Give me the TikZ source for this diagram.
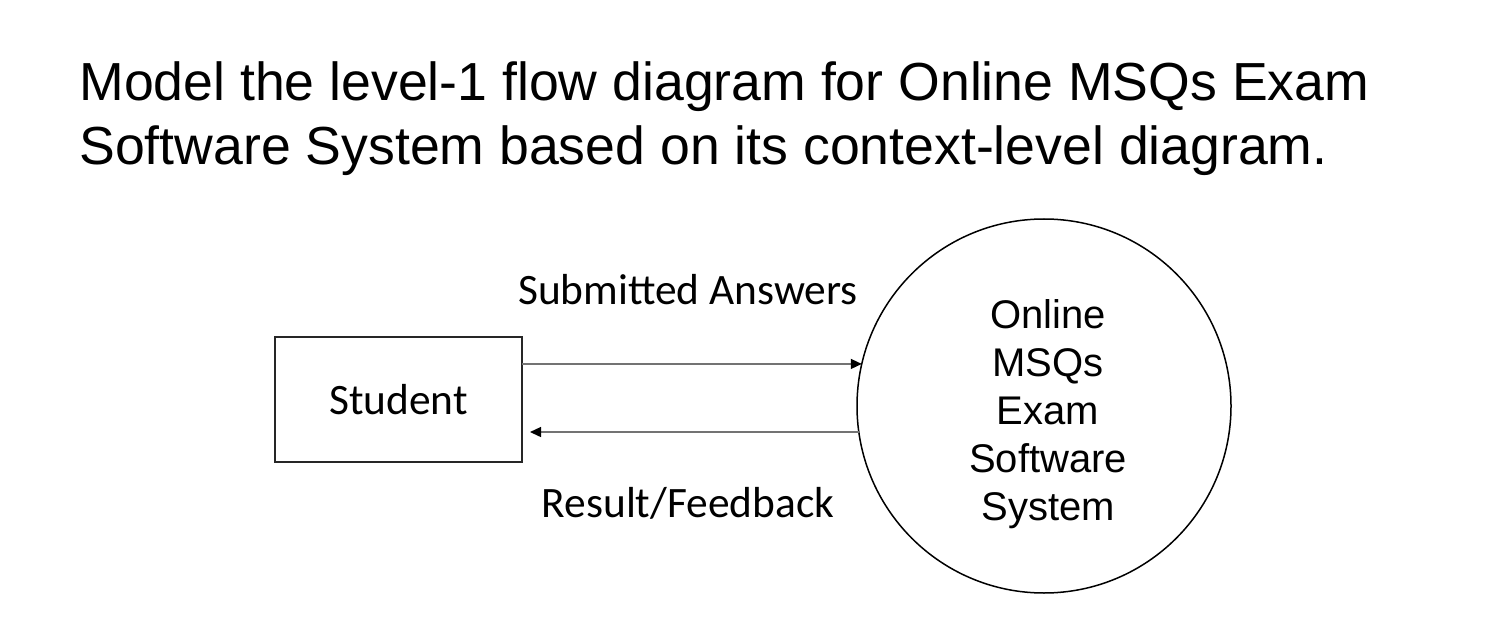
\documentclass[tikz,border=0pt]{standalone}
\usepackage{fontspec}
\setmainfont{Liberation Sans}
\newfontfamily\calfont{Carlito}
\usetikzlibrary{arrows.meta}
\begin{document}
\begin{tikzpicture}[x=0.5pt,y=-0.5pt,
  titletext/.style={anchor=base west,inner sep=0,font=\fontsize{26.8}{32}\selectfont},
  labeltext/.style={anchor=base,inner sep=0,font=\calfont\fontsize{21.7}{26}\selectfont},
  entity/.style={draw=black!85,line width=1.1pt,minimum width=123.5pt,minimum height=62.5pt,inner sep=0,outer sep=0,font=\calfont\fontsize{21.7}{26}\selectfont},
  process/.style={draw=black,line width=0.75pt,circle,minimum size=187pt,inner sep=0,outer sep=0},
  flow/.style={draw=black!55,line width=0.7pt,-{Triangle[length=5.5pt,width=5pt,color=black,fill=black]}}]
\useasboundingbox (0,0) rectangle (1492,625);
\node[titletext] (t1) at (79,101) {Model the level-1 flow diagram for Online MSQs Exam};
\node[titletext] (t2) at (79,165) {Software System based on its context-level diagram.};
\node[entity] (stu) at (398.5,399.5) {Student};
\node[process] (sys) at (1044,406) {};
\node[anchor=base,inner sep=0,align=center,font=\fontsize{20}{24}\selectfont] (systext) at (1048,520) {Online\\MSQs\\Exam\\Software\\System};
\draw[flow] (stu.east |- sys.167) -- (sys.167);
\draw[flow,shorten >=4pt] (sys.188) -- (stu.east |- sys.188);
\node[labeltext] (l1) at (688,305) {Submitted Answers};
\node[labeltext] (l2) at (688,517) {Result/Feedback};
\end{tikzpicture}
\end{document}
